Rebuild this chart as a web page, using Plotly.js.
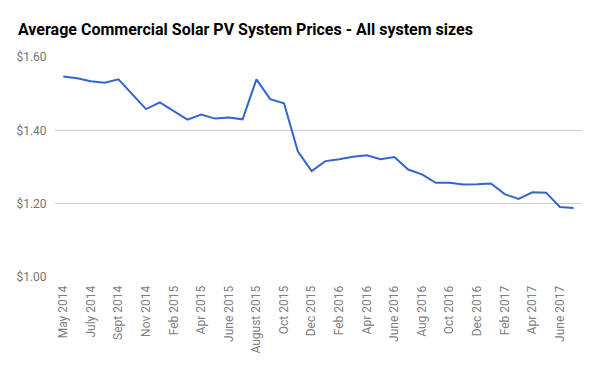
<!DOCTYPE html>
<html>
<head>
<meta charset="utf-8">
<script src="https://cdn.plot.ly/plotly-3.0.1.min.js"></script>
<style>html,body{margin:0;padding:0;background:#fff;}#chart{width:600px;height:371px;}</style>
</head>
<body>
<div id="chart"></div>
<script>
const months = ["May 2014","June 2014","July 2014","Aug 2014","Sept 2014","Oct 2014","Nov 2014","Jan 2015",
  "Feb 2015","Mar 2015","Apr 2015","May 2015","June 2015","July 2015","August 2015","Sept 2015",
  "Oct 2015","Nov 2015","Dec 2015","Jan 2016","Feb 2016","Mar 2016","Apr 2016","May 2016",
  "June 2016","July 2016","Aug 2016","Sept 2016","Oct 2016","Nov 2016","Dec 2016","Jan 2017",
  "Feb 2017","Mar 2017","Apr 2017","May 2017","June 2017","July 2017"];
const prices = [1.547,1.542,1.534,1.530,1.539,1.499,1.458,1.476,
  1.453,1.429,1.443,1.432,1.435,1.430,1.539,1.485,
  1.474,1.343,1.289,1.316,1.321,1.328,1.332,1.321,
  1.327,1.293,1.280,1.257,1.257,1.252,1.253,1.255,
  1.226,1.213,1.231,1.230,1.191,1.188];
const yTicks = [1.0,1.2,1.4,1.6];
const yTickText = ["$1.00","$1.20","$1.40","$1.60"];

const shownTicks = months.filter((m,i)=>i%2===0);

Plotly.newPlot('chart',[{
  x: months, y: prices, type:'scatter', mode:'lines',
  line:{color:'#3366cc', width:2}, hoverinfo:'x+y'
}],{
  width:600, height:371,
  margin:{l:55, r:18, t:57, b:94},
  paper_bgcolor:'#fff', plot_bgcolor:'#fff',
  font:{family:'Roboto, Arial, sans-serif', color:'#757575', size:12},
  title:{text:'<b>Average Commercial Solar PV System Prices - All system sizes</b>',
    font:{family:'Roboto, Arial, sans-serif', size:16, color:'#000'},
    xref:'container', yref:'container', x:18/600, xanchor:'left', y:1-29/371, yanchor:'middle'},
  xaxis:{type:'category', range:[-0.6, months.length-0.4], tickmode:'array',
    tickvals:shownTicks, ticktext:shownTicks, tickangle:-90, showgrid:false,
    zeroline:false, showline:false, ticks:'outside', ticklen:3, tickcolor:'rgba(0,0,0,0)',
    tickfont:{size:12, color:'#808080'}},
  yaxis:{range:[1.0,1.6], tickmode:'array', tickvals:yTicks, ticktext:yTickText,
    showgrid:true, gridcolor:'#cccccc', gridwidth:1, zeroline:false, showline:false,
    ticks:'outside', ticklen:5, tickcolor:'rgba(0,0,0,0)', tickfont:{size:12, color:'#757575'}},
  showlegend:false
},{displayModeBar:false, staticPlot:true});
</script>
</body>
</html>
